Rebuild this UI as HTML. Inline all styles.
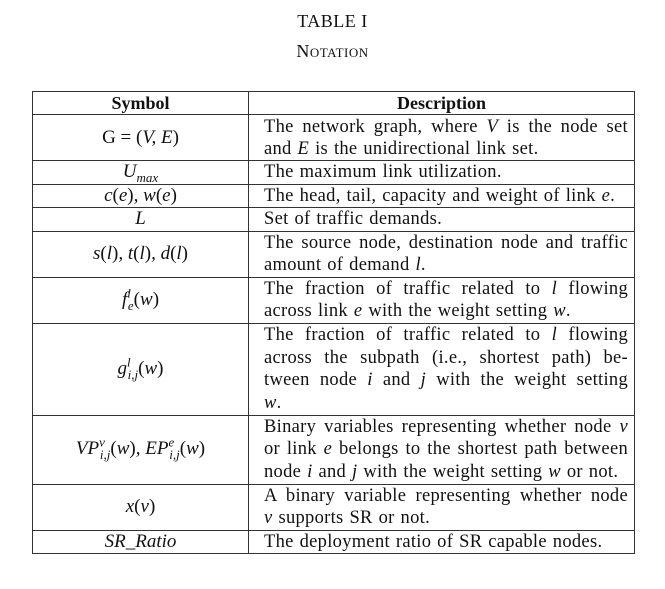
<!DOCTYPE html>
<html><head><meta charset="utf-8"><style>
body{margin:0;width:665px;height:589px;background:#fff;font-family:"Liberation Serif",serif;color:#111;position:relative;overflow:hidden}
.t1{position:absolute;top:11px;left:0;width:665px;text-align:center;font-size:18px;letter-spacing:0.5px}
.t2{position:absolute;top:41px;left:0;width:665px;text-align:center;font-size:18px;font-variant:small-caps;letter-spacing:0.5px}
table{position:absolute;left:32px;top:91px;width:603px;border-collapse:collapse;font-size:18.5px;table-layout:fixed}
td,th{border:1.3px solid #333;padding:0 6px 0 15px;line-height:22.4px;vertical-align:middle;overflow:hidden}
td.d{letter-spacing:0.3px;word-spacing:1px;white-space:nowrap}
td.d div{text-align:justify;text-align-last:justify}
td.d div.l{text-align-last:left}
th{font-weight:bold;text-align:center;padding:0;font-size:18px}
td.s{text-align:center;padding:0;font-style:italic;font-size:19px}
i{font-style:italic}
sub,sup{font-size:13px;line-height:0}
</style></head><body>
<div class="t1">TABLE I</div>
<div class="t2">Notation</div>
<table>
<colgroup><col style="width:216px"><col></colgroup>
<tr style="height:22px"><th>Symbol</th><th>Description</th></tr>
<tr style="height:46px"><td class="s"><span style="font-style:normal">G = (</span>V, E<span style="font-style:normal">)</span></td><td class="d"><div>The network graph, where <i>V</i> is the node set</div><div class="l">and <i>E</i> is the unidirectional link set.</div></td></tr>
<tr style="height:23px"><td class="s">U<sub>max</sub></td><td class="d"><div class="l">The maximum link utilization.</div></td></tr>
<tr style="height:23px"><td class="s">c<span style="font-style:normal">(</span>e<span style="font-style:normal">)</span>, w<span style="font-style:normal">(</span>e<span style="font-style:normal">)</span></td><td class="d"><div class="l">The head, tail, capacity and weight of link <i>e</i>.</div></td></tr>
<tr style="height:23px"><td class="s">L</td><td class="d"><div class="l">Set of traffic demands.</div></td></tr>
<tr style="height:46px"><td class="s">s<span style="font-style:normal">(</span>l<span style="font-style:normal">)</span>, t<span style="font-style:normal">(</span>l<span style="font-style:normal">)</span>, d<span style="font-style:normal">(</span>l<span style="font-style:normal">)</span></td><td class="d"><div>The source node, destination node and traffic</div><div class="l">amount of demand <i>l</i>.</div></td></tr>
<tr style="height:46px"><td class="s">f<sup>l</sup><sub style="margin-left:-3px">e</sub><span style="font-style:normal">(</span>w<span style="font-style:normal">)</span></td><td class="d"><div>The fraction of traffic related to <i>l</i> flowing</div><div class="l">across link <i>e</i> with the weight setting <i>w</i>.</div></td></tr>
<tr style="height:92px"><td class="s">g<sup>l</sup><sub style="margin-left:-3px">i,j</sub><span style="font-style:normal">(</span>w<span style="font-style:normal">)</span></td><td class="d"><div>The fraction of traffic related to <i>l</i> flowing</div><div>across the subpath (i.e., shortest path) be-</div><div>tween node <i>i</i> and <i>j</i> with the weight setting</div><div class="l"><i>w</i>.</div></td></tr>
<tr style="height:69px"><td class="s">VP<sup>v</sup><sub style="margin-left:-5px">i,j</sub><span style="font-style:normal">(</span>w<span style="font-style:normal">)</span>, EP<sup>e</sup><sub style="margin-left:-5px">i,j</sub><span style="font-style:normal">(</span>w<span style="font-style:normal">)</span></td><td class="d"><div>Binary variables representing whether node <i>v</i></div><div>or link <i>e</i> belongs to the shortest path between</div><div class="l">node <i>i</i> and <i>j</i> with the weight setting <i>w</i> or not.</div></td></tr>
<tr style="height:46px"><td class="s">x<span style="font-style:normal">(</span>v<span style="font-style:normal">)</span></td><td class="d"><div>A binary variable representing whether node</div><div class="l"><i>v</i> supports SR or not.</div></td></tr>
<tr style="height:22px"><td class="s">SR_Ratio</td><td class="d"><div class="l">The deployment ratio of SR capable nodes.</div></td></tr>
</table>
</body></html>
